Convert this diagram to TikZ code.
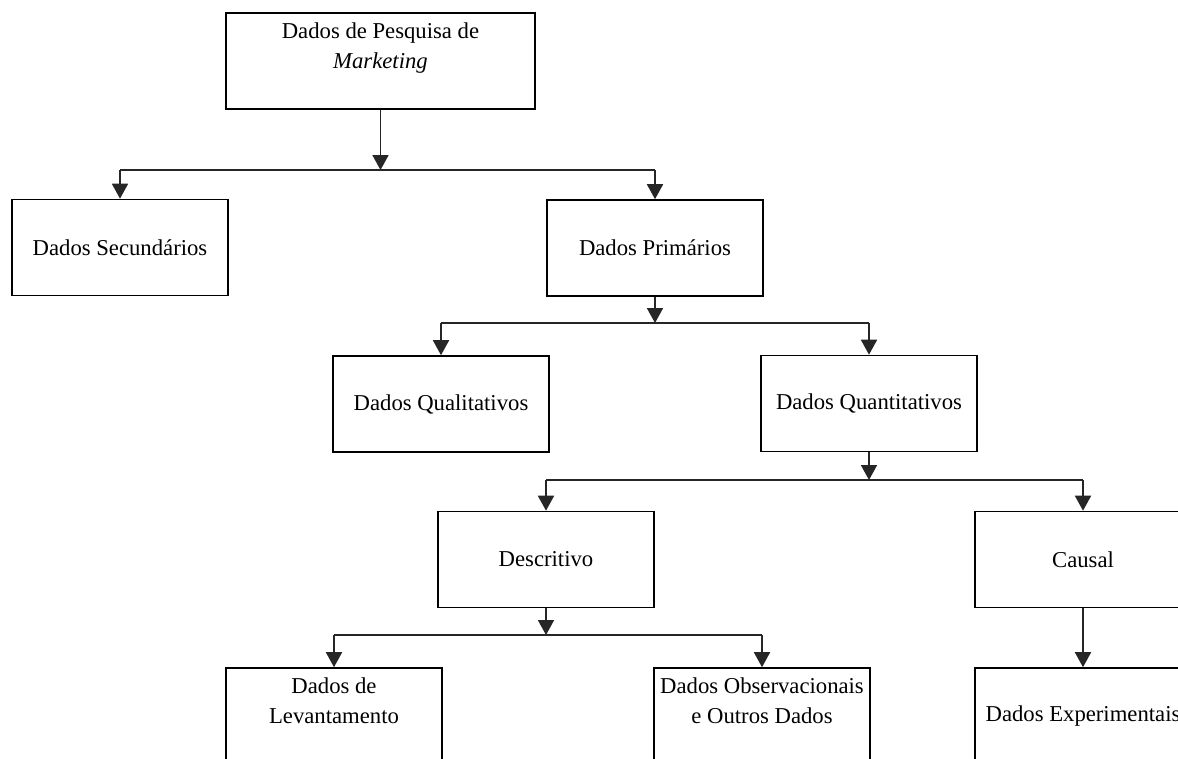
\documentclass[tikz,border=0pt]{standalone}
\usepackage{fontspec}
\setmainfont{Liberation Serif}
\usetikzlibrary{arrows.meta}

\begin{document}
\begin{tikzpicture}[x=1pt,y=-1pt,
  box/.style={draw=black, line width=1.6pt, rectangle, align=center,
    minimum width=216pt, minimum height=96pt, inner sep=2pt,
    font=\fontsize{22.7}{30}\selectfont},
  link/.style={draw=black!85, line width=1.8pt},
  tip/.style={link, -{Triangle[width=16pt,length=15pt]}}]

  % canvas and clipping frame
  \fill[white] (0,0) rectangle (1178,758);
  \clip (0,0) rectangle (1178,758);

  % boxes
  \node[box, minimum width=309pt] (top) at (380.5,61)
    {Dados de Pesquisa de\\ \textit{Marketing}\\ \mbox{}};
  \node[box] (sec)    at (120,247.5) {Dados Secund\'arios};
  \node[box] (prim)   at (655,248)   {Dados Prim\'arios};
  \node[box] (qual)   at (441,404)   {Dados Qualitativos};
  \node[box] (quant)  at (869,403.5) {Dados Quantitativos};
  \node[box] (desc)   at (546,559.5) {Descritivo};
  \node[box] (causal) at (1083,559.5) {Causal};
  \node[box] (lev)    at (334,716)   {Dados de\\ Levantamento\\ \mbox{}};
  \node[box] (obs)    at (762,716)   {Dados Observacionais\\ e Outros Dados\\ \mbox{}};
  \node[box] (exp)    at (1083,716)  {Dados Experimentais};

  % fork levels
  \coordinate (j1) at (0,170);
  \coordinate (j2) at (0,323);
  \coordinate (j3) at (0,480);
  \coordinate (j4) at (0,635);

  % Marketing -> secondary / primary
  \draw[tip] (top.south) -- (top.south |- j1);
  \draw[link] (sec.north |- j1) -- (prim.north |- j1);
  \draw[tip] (sec.north |- j1) -- (sec.north);
  \draw[tip] (prim.north |- j1) -- (prim.north);

  % primary -> qualitative / quantitative
  \draw[tip] (prim.south) -- (prim.south |- j2);
  \draw[link] (qual.north |- j2) -- (quant.north |- j2);
  \draw[tip] (qual.north |- j2) -- (qual.north);
  \draw[tip] (quant.north |- j2) -- (quant.north);

  % quantitative -> descriptive / causal
  \draw[tip] (quant.south) -- (quant.south |- j3);
  \draw[link] (desc.north |- j3) -- (causal.north |- j3);
  \draw[tip] (desc.north |- j3) -- (desc.north);
  \draw[tip] (causal.north |- j3) -- (causal.north);

  % descriptive -> survey / observational
  \draw[tip] (desc.south) -- (desc.south |- j4);
  \draw[link] (lev.north |- j4) -- (obs.north |- j4);
  \draw[tip] (lev.north |- j4) -- (lev.north);
  \draw[tip] (obs.north |- j4) -- (obs.north);

  % causal -> experimental
  \draw[tip] (causal.south) -- (exp.north);
\end{tikzpicture}
\end{document}
